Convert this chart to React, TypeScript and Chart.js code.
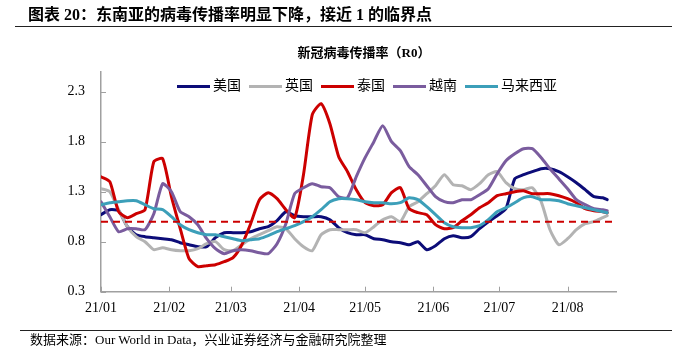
import React, { useEffect, useRef } from 'react';
import { Chart, registerables } from 'chart.js';

Chart.register(...registerables);

// ---- data ----
const days = [
  0, 4, 8, 12, 16, 20, 24, 28, 32, 36,
  40, 44, 48, 52, 56, 60, 64, 68, 72, 76,
  80, 84, 88, 92, 96, 100, 104, 108, 112, 116,
  120, 124, 128, 132, 136, 140, 144, 148, 152, 156,
  160, 164, 168, 172, 176, 180, 184, 188, 192, 196,
  200, 204, 208, 212, 216, 220, 224, 228, 230,
];
const monthStartDays = [0, 31, 59, 90, 120, 151, 181, 212];
const monthLabels = ['21/01', '21/02', '21/03', '21/04', '21/05', '21/06', '21/07', '21/08'];
const yTickValues = [0.3, 0.8, 1.3, 1.8, 2.3];
const seriesNames = ['美国', '英国', '泰国', '越南', '马来西亚'];

const usa = [
  1.07, 1.12, 1.11, 0.95, 0.87, 0.85, 0.84, 0.83, 0.82, 0.79,
  0.77, 0.75, 0.75, 0.84, 0.89, 0.89, 0.89, 0.90, 0.93, 0.95,
  1.01, 1.10, 1.06, 1.05, 1.05, 1.05, 1.02, 0.94, 0.89, 0.87,
  0.87, 0.83, 0.82, 0.80, 0.79, 0.77, 0.80, 0.72, 0.76, 0.83,
  0.86, 0.84, 0.85, 0.93, 1.00, 1.06, 1.13, 1.43, 1.47, 1.50,
  1.53, 1.53, 1.50, 1.45, 1.39, 1.32, 1.25, 1.24, 1.22,
];
const uk = [
  1.33, 1.30, 1.12, 0.95, 0.85, 0.80, 0.72, 0.74, 0.72, 0.71,
  0.71, 0.73, 0.78, 0.80, 0.72, 0.71, 0.77, 0.83, 0.87, 0.91,
  0.95, 0.93, 0.83, 0.75, 0.71, 0.87, 0.92, 0.92, 0.92, 0.92,
  0.89, 0.95, 1.02, 1.05, 1.00, 1.15, 1.20, 1.28, 1.36, 1.47,
  1.37, 1.36, 1.32, 1.38, 1.47, 1.50, 1.39, 1.33, 1.32, 1.34,
  1.20, 0.92, 0.77, 0.83, 0.92, 0.98, 1.00, 1.04, 1.06,
];
const thailand = [
  1.45, 1.40, 1.10, 1.04, 1.08, 1.12, 1.60, 1.63, 1.25, 0.93,
  0.63, 0.55, 0.56, 0.57, 0.60, 0.64, 0.77, 0.98, 1.22, 1.29,
  1.23, 1.12, 1.04, 1.47, 2.07, 2.18, 1.98, 1.65, 1.50, 1.32,
  1.19, 1.16, 1.17, 1.29, 1.34, 1.13, 1.09, 1.07, 0.97, 0.93,
  0.94, 1.01, 1.07, 1.14, 1.19, 1.26, 1.28, 1.30, 1.31, 1.28,
  1.28, 1.28, 1.26, 1.23, 1.19, 1.13, 1.11, 1.10, 1.09,
];
const vietnam = [
  1.20, 1.05, 0.90, 0.93, 0.93, 0.92, 1.08, 1.38, 1.30, 1.10,
  1.05, 0.97, 0.83, 0.73, 0.68, 0.71, 0.72, 0.71, 0.69, 0.68,
  0.78, 0.98, 1.28, 1.34, 1.38, 1.35, 1.34, 1.25, 1.24, 1.45,
  1.64, 1.80, 1.96, 1.80, 1.71, 1.55, 1.47, 1.36, 1.25, 1.20,
  1.19, 1.22, 1.22, 1.27, 1.33, 1.48, 1.61, 1.68, 1.73, 1.73,
  1.64, 1.53, 1.43, 1.33, 1.22, 1.17, 1.13, 1.12, 1.11,
];
const malaysia = [
  1.17, 1.19, 1.20, 1.21, 1.21, 1.17, 1.13, 1.12, 1.05, 0.97,
  0.92, 0.89, 0.87, 0.87, 0.85, 0.83, 0.81, 0.82, 0.83, 0.86,
  0.90, 0.93, 0.96, 1.00, 1.05, 1.12, 1.20, 1.23, 1.23, 1.22,
  1.20, 1.19, 1.19, 1.18, 1.19, 1.24, 1.22, 1.15, 1.07, 0.99,
  0.95, 0.94, 0.94, 0.96, 1.02, 1.10, 1.14, 1.19, 1.24, 1.25,
  1.22, 1.22, 1.21, 1.18, 1.16, 1.14, 1.12, 1.10, 1.09,
];
const thresholdDays = [0, 234];
const thresholdValues = [1, 1];

// ---- style ----
const seriesValues = [usa, uk, thailand, vietnam, malaysia];
const seriesColors = ['#0c0c78', '#b3b3b3', '#cc0000', '#7a5c9e', '#3c9fb9'];
const axisColor = '#a0a0a0';
const serifFont = '"Liberation Serif", "Times New Roman", serif';
const cjkFont = '"Liberation Serif", "Noto Sans CJK SC", serif';

const innerTicks = {
  id: 'innerTicks',
  beforeDatasetsDraw(chart: any) {
    const { ctx, chartArea, scales } = chart;
    const xs = scales.x;
    const ys = scales.y;
    ctx.save();
    ctx.strokeStyle = axisColor;
    ctx.lineWidth = 1;
    ctx.beginPath();
    ys.ticks.forEach((t: any) => {
      const y = Math.round(ys.getPixelForValue(t.value)) + 0.5;
      ctx.moveTo(chartArea.left, y);
      ctx.lineTo(chartArea.left + 5, y);
    });
    xs.ticks.forEach((t: any) => {
      const x = Math.round(xs.getPixelForValue(t.value)) + 0.5;
      ctx.moveTo(x, chartArea.bottom);
      ctx.lineTo(x, chartArea.bottom - 5);
    });
    ctx.stroke();
    ctx.restore();
  },
};

function ChartCanvas() {
  const ref = useRef<HTMLCanvasElement | null>(null);
  useEffect(() => {
    if (!ref.current) return;
    const datasets: any[] = seriesNames.map((name, i) => ({
      label: name,
      data: days.map((d, k) => ({ x: d, y: seriesValues[i][k] })),
      borderColor: seriesColors[i],
      backgroundColor: seriesColors[i],
      borderWidth: 3,
      pointRadius: 0,
      tension: 0.2,
      borderJoinStyle: 'round',
      borderCapStyle: 'round',
      fill: false,
      order: seriesNames.length - i,
    }));
    datasets.push({
      label: 'threshold',
      data: thresholdDays.map((d, k) => ({ x: d, y: thresholdValues[k] })),
      borderColor: '#cc0000',
      borderWidth: 2,
      borderDash: [7, 5],
      pointRadius: 0,
      fill: false,
      order: 0,
    });
    const chart = new Chart(ref.current, {
      type: 'line',
      data: { datasets },
      plugins: [innerTicks],
      options: {
        animation: false,
        responsive: false,
        devicePixelRatio: 1,
        layout: { padding: { top: 71.7, right: 72, bottom: 26.3, left: 0 } },
        plugins: {
          legend: { display: false },
          title: { display: false },
          tooltip: { enabled: false },
        },
        scales: {
          x: {
            type: 'linear',
            min: 0,
            max: 234,
            grid: { display: false, drawTicks: false },
            border: { display: true, color: axisColor, width: 1.5 },
            afterBuildTicks: (s: any) => {
              s.ticks = monthStartDays.map((v) => ({ value: v }));
            },
            afterFit: (s: any) => {
              s.height = 30;
            },
            ticks: {
              autoSkip: false,
              maxRotation: 0,
              padding: 8,
              color: '#000',
              font: { family: serifFont, size: 14 },
              callback: (_v: any, idx: number) => monthLabels[idx],
            },
          },
          y: {
            type: 'linear',
            min: 0.3,
            max: 2.5,
            grid: { display: false, drawTicks: false },
            border: { display: true, color: axisColor, width: 1.5 },
            afterBuildTicks: (s: any) => {
              s.ticks = yTickValues.map((v) => ({ value: v }));
            },
            afterFit: (s: any) => {
              s.width = 101;
            },
            ticks: {
              padding: 16,
              color: '#000',
              font: { family: serifFont, size: 14 },
              callback: (v: any) => Number(v).toFixed(1),
            },
          },
        },
      },
    });
    return () => chart.destroy();
  }, []);
  return (
    <canvas
      ref={ref}
      width={688}
      height={348}
      style={{ position: 'absolute', left: 0, top: 0, width: 688, height: 348 }}
    />
  );
}

export default function App() {
  return (
    <div
      style={{
        position: 'absolute',
        left: 0,
        top: 0,
        width: 688,
        height: 348,
        background: '#fff',
        overflow: 'hidden',
      }}
    >
      <ChartCanvas />
      <div
        style={{
          position: 'absolute',
          left: 28,
          top: 5,
          fontSize: 16,
          lineHeight: '20px',
          fontWeight: 700,
          fontFamily: cjkFont,
          color: '#000',
          whiteSpace: 'nowrap',
        }}
      >
        图表 20：东南亚的病毒传播率明显下降，接近 1 的临界点
      </div>
      <div style={{ position: 'absolute', left: 15, top: 26, width: 657, height: 1, background: '#222' }} />
      <div
        style={{
          position: 'absolute',
          left: 0,
          width: 728,
          top: 44,
          textAlign: 'center',
          fontSize: 13,
          lineHeight: '18px',
          fontWeight: 700,
          fontFamily: cjkFont,
          color: '#000',
          whiteSpace: 'nowrap',
        }}
      >
        新冠病毒传播率（R0）
      </div>
      <div
        style={{
          position: 'absolute',
          left: 177,
          top: 77,
          height: 18,
          display: 'flex',
          alignItems: 'center',
          whiteSpace: 'nowrap',
        }}
      >
        {seriesNames.map((n, i) => (
          <div key={n} style={{ display: 'flex', alignItems: 'center', marginRight: 8 }}>
            <span
              style={{ display: 'inline-block', width: 33, height: 3, background: seriesColors[i], marginRight: 3 }}
            />
            <span style={{ fontSize: 14, lineHeight: '18px', fontFamily: cjkFont, color: '#000' }}>{n}</span>
          </div>
        ))}
      </div>
      <div style={{ position: 'absolute', left: 20, top: 330, width: 652, height: 1, background: '#222' }} />
      <div
        style={{
          position: 'absolute',
          left: 30,
          top: 331,
          fontSize: 13,
          lineHeight: '18px',
          fontFamily: cjkFont,
          color: '#000',
          whiteSpace: 'nowrap',
        }}
      >
        数据来源：Our World in Data，兴业证券经济与金融研究院整理
      </div>
    </div>
  );
}
